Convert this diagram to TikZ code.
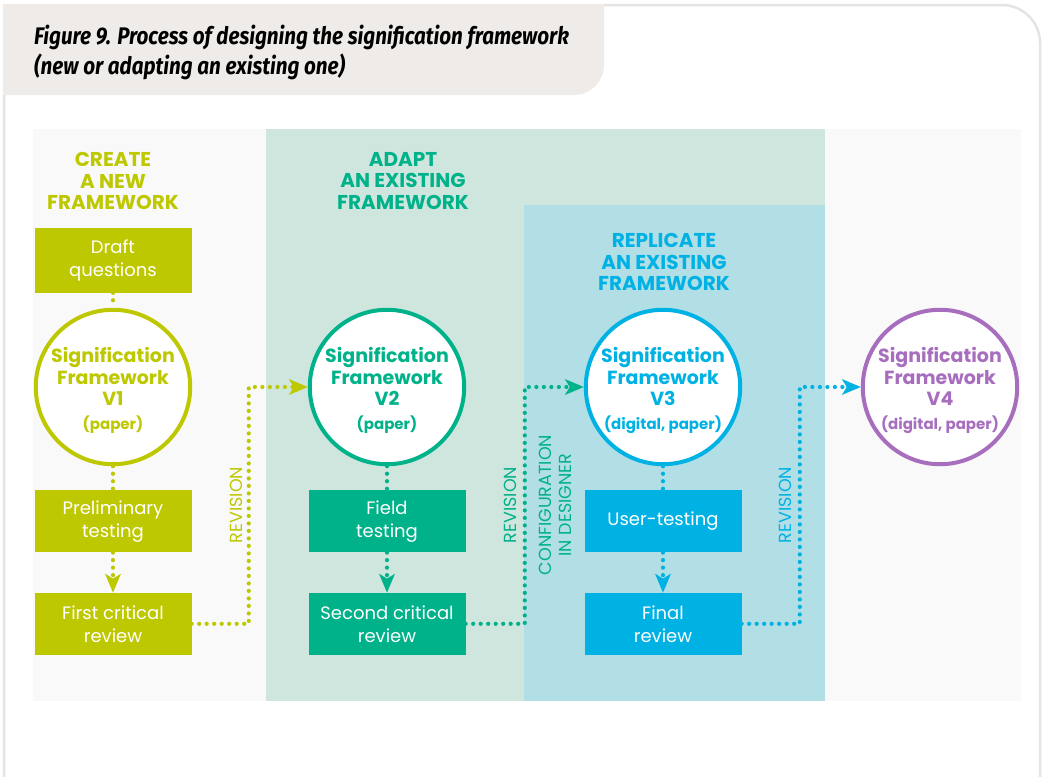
\documentclass[tikz,border=0pt]{standalone}
\usepackage{fontspec}
\setmainfont{Poppins}
\newfontfamily\titlefont[FakeStretch=0.86]{Fira Sans}
\usetikzlibrary{arrows.meta,positioning,calc}
\definecolor{colNew}{RGB}{190,200,0}
\definecolor{colAdapt}{RGB}{0,178,138}
\definecolor{colRepl}{RGB}{0,178,228}
\definecolor{colFinal}{RGB}{168,110,190}
\definecolor{bandAdapt}{RGB}{207,230,222}
\definecolor{bandRepl}{RGB}{178,222,230}
\definecolor{panel}{RGB}{249,249,249}
\definecolor{titlefill}{RGB}{239,235,232}
\definecolor{frame}{RGB}{228,228,228}
\tikzset{
  box/.style={rectangle,minimum width=157pt,minimum height=62pt,inner sep=0pt,
    text=white,align=center,font=\fontsize{18}{23}\selectfont},
  sf/.style={circle,draw,line width=4pt,fill=white,minimum size=154pt,inner sep=0pt,
    align=center,font=\bfseries\fontsize{19}{21.5}\selectfont},
  head/.style={align=center,font=\bfseries\fontsize{20}{21.5}\selectfont},
  vlab/.style={rotate=90,align=center,font=\fontsize{17.5}{20}\selectfont},
  dots/.style={line width=4.2pt,dash pattern=on 0pt off 7.5pt,line cap=round},
  flow/.style={dots,-{Stealth[length=19pt,width=16pt,inset=5pt,line width=0pt]}},
}
\newcommand{\sub}[1]{\\[2pt]{\fontsize{15}{18}\selectfont #1}}
\newcommand{\sftext}[2]{\rule{0pt}{22pt}Signification\\Framework\\#1\sub{#2}}

\begin{document}
\begin{tikzpicture}[x=1pt,y=-1pt,node distance=24pt]
\useasboundingbox (0,0) rectangle (1045,777);
% frame and title
\draw[frame,line width=2.5pt] (4,777) -- (4,5) -- (1002,5)
  arc[start angle=-90,end angle=0,radius=38] -- (1040,777);
\fill[titlefill] (3,4) -- (604,4) -- (604,65)
  arc[start angle=0,end angle=90,radius=30] -- (3,95) -- cycle;
\node[anchor=north west,inner sep=0pt,align=left,
  font=\titlefont\bfseries\itshape\fontsize{24}{30}\selectfont] (title) at (34,25)
  {Figure 9. Process of designing the signification framework\\
   (new or adapting an existing one)};

% bands
\fill[panel] (33,129) rectangle (1021,701);
\fill[bandAdapt] (266,129) rectangle (825,701);
\fill[bandRepl] (524,205) rectangle (825,701);

% headings
\node[head,text=colNew] (hNew) at (113,181) {CREATE\\A NEW\\FRAMEWORK};
\node[head,text=colAdapt] (hAdapt) at (403,181) {ADAPT\\AN EXISTING\\FRAMEWORK};
\node[head,text=colRepl] (hRepl) at (664,262) {REPLICATE\\AN EXISTING\\FRAMEWORK};

% create a new framework
\node[sf,draw=colNew,text=colNew] (sf1) at (113,387) {\sftext{V1}{(paper)}};
\node[box,fill=colNew,above=15pt of sf1,minimum height=65pt] (draft) {Draft\\questions};
\node[box,fill=colNew,below=of sf1] (prelim) {Preliminary\\testing};
\node[box,fill=colNew,below=40pt of prelim] (crit1) {First critical\\review};

% adapt an existing framework
\node[sf,draw=colAdapt,text=colAdapt] (sf2) at (387,387) {\sftext{V2}{(paper)}};
\node[box,fill=colAdapt,below=of sf2] (field) {Field\\testing};
\node[box,fill=colAdapt,below=40pt of field] (crit2) {Second critical\\review};

% replicate an existing framework
\node[sf,draw=colRepl,text=colRepl] (sf3) at (663,387) {\sftext{V3}{(digital, paper)}};
\node[box,fill=colRepl,below=of sf3] (user) {User-testing};
\node[box,fill=colRepl,below=40pt of user] (final) {Final\\review};

% final version
\node[sf,draw=colFinal,text=colFinal] (sf4) at (940,387) {\sftext{V4}{(digital, paper)}};

% side labels
\node[vlab,text=colNew] (rev1) at (236,505) {REVISION};
\node[vlab,text=colAdapt] (rev2) at (510,505) {REVISION};
\node[vlab,text=colAdapt] (conf) at (555,505) {CONFIGURATION\\IN DESIGNER};
\node[vlab,text=colRepl] (rev3) at (785,505) {REVISION};

% connectors
\draw[dots,colNew] (draft) -- (sf1);
\draw[dots,colNew] (sf1) -- (prelim);
\draw[flow,colNew] (prelim) -- (crit1);
\draw[dots,colAdapt] (sf2) -- (field);
\draw[flow,colAdapt] (field) -- (crit2);
\draw[dots,colRepl] (sf3) -- (user);
\draw[flow,colRepl] (user) -- (final);
\draw[flow,colNew] (crit1.east) -| ($(sf2.west)+(-59,0)$) -- (sf2.west);
\draw[flow,colAdapt] (crit2.east) -| ($(sf3.west)+(-59,0)$) -- (sf3.west);
\draw[flow,colRepl] (final.east) -| ($(sf4.west)+(-61,0)$) -- (sf4.west);
\end{tikzpicture}
\end{document}
